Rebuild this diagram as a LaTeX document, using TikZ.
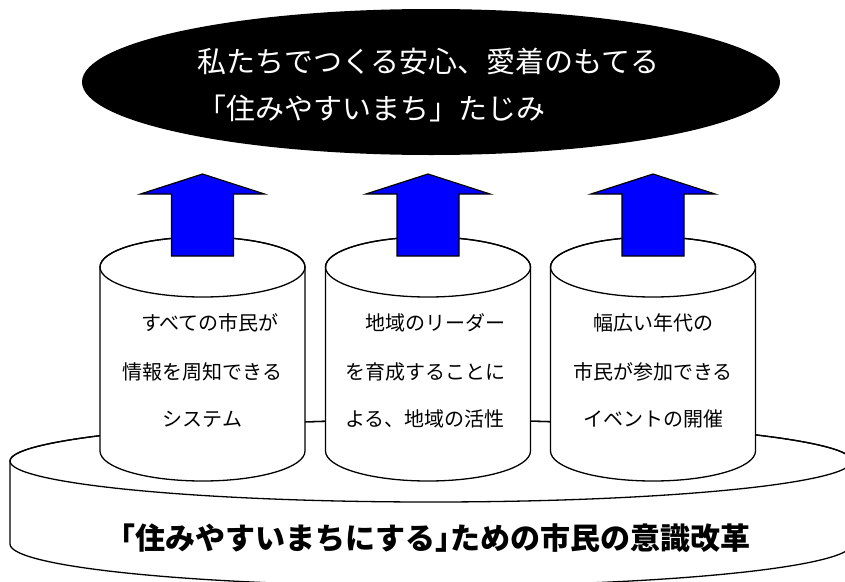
\documentclass[tikz,border=0pt]{standalone}
\usepackage{fontspec}
\newfontfamily\jp{Noto Sans CJK JP}
\begin{document}
\begin{tikzpicture}[x=1pt,y=-1pt,
  outline/.style={draw=black,line width=1.3pt,fill=white,line join=round},
  uparrow/.style={draw=black,line width=1.2pt,fill=blue,line join=miter},
  cyltext/.style={font=\jp\fontsize{20pt}{24pt}\selectfont,inner sep=0pt,text=black},
  toptext/.style={font=\jp\fontsize{29pt}{34pt}\selectfont,inner sep=0pt,text=white,anchor=west},
  basetext/.style={font=\jp\bfseries\fontsize{30pt}{36pt}\selectfont,inner sep=0pt,text=black}]
\useasboundingbox (0,0) rectangle (845,581);
\clip (0,0) rectangle (845,581);
\fill[white] (0,0) rectangle (845,581);

% top goal ellipse
\fill[black] (431,82) ellipse[x radius=349pt,y radius=73pt];
\node[toptext] (g1) at (197,61) {私たちでつくる安心、愛着のもてる};
\node[toptext] (g2) at (197,108) {「住みやすいまち」たじみ};

% base cylinder
\path[outline] (10,461) -- (10,544)
  arc[start angle=180,end angle=360,x radius=421pt,y radius=42pt]
  -- (852,461)
  arc[start angle=0,end angle=180,x radius=421pt,y radius=41pt] -- cycle;
\draw[outline,fill=none] (431,461) ellipse[x radius=421pt,y radius=41pt];
\node[basetext] (base) at (428,538) {「住みやすいまちにする」\kern-.5em ための市民の意識改革};

% three cylinders
\foreach \cx/\nm in {202.5/a,428/b,653/c}{
  \path[outline] (\cx-102.5,267) -- (\cx-102.5,451)
    arc[start angle=180,end angle=360,x radius=102.5pt,y radius=30pt]
    -- (\cx+102.5,267)
    arc[start angle=0,end angle=180,x radius=102.5pt,y radius=30pt] -- cycle;
  \draw[outline,fill=none] (\cx,267) ellipse[x radius=102.5pt,y radius=30pt];
  \path[uparrow] (\cx-31,256) -- (\cx-31,194) -- (\cx-62,194) -- (\cx,174)
    -- (\cx+62,194) -- (\cx+31,194) -- (\cx+31,256) -- cycle;
}

\node[cyltext] (a1) at (210,323) {すべての市民が};
\node[cyltext] (a2) at (202.5,372) {情報を周知できる};
\node[cyltext] (a3) at (202.5,419) {システム};

\node[cyltext] (b1) at (435,323) {地域のリーダー};
\node[cyltext] (b2) at (425,372) {を育成することに};
\node[cyltext] (b3) at (425,419) {よる、地域の活性};

\node[cyltext] (c1) at (653,323) {幅広い年代の};
\node[cyltext] (c2) at (653,372) {市民が参加できる};
\node[cyltext] (c3) at (653,419) {イベントの開催};
\end{tikzpicture}
\end{document}
